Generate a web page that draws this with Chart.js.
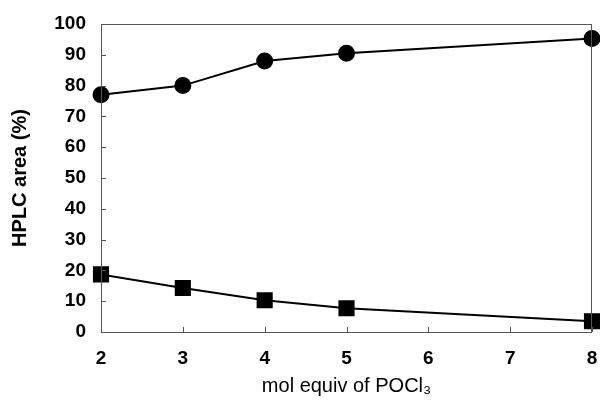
<!DOCTYPE html>
<html>
<head>
<meta charset="utf-8">
<script src="https://cdn.jsdelivr.net/npm/chart.js@4"></script>
<style>
  html, body { margin: 0; padding: 0; background: #fff; }
  #wrap { width: 600px; height: 419px; }
</style>
</head>
<body>
<div id="wrap"><canvas id="chart" width="600" height="419"></canvas></div>
<script>
// DATA
const equivTop = [2, 3, 4, 5, 8]
const areaTop = [77, 80, 88, 90.5, 95.3]
const equivBottom = [2, 3, 4, 5, 8]
const areaBottom = [18.7, 14.3, 10.3, 7.7, 3.5]
const xTicks = [2, 3, 4, 5, 6, 7, 8]

const toPoints = (xs, ys) => xs.map((x, i) => ({ x: x, y: ys[i] }))

// frame + inward ticks
const framePlugin = {
  id: "frame",
  afterDatasetsDraw(chart) {
    const { ctx, chartArea, scales } = chart
    ctx.save()
    ctx.strokeStyle = "#555"
    ctx.lineWidth = 1
    ctx.strokeRect(chartArea.left + 0.5, chartArea.top + 0.5, chartArea.width - 1, chartArea.height)
    ctx.beginPath()
    scales.y.ticks.forEach((t) => {
      const py = Math.round(scales.y.getPixelForValue(t.value)) + 0.5
      ctx.moveTo(chartArea.left, py)
      ctx.lineTo(chartArea.left + 5, py)
    })
    xTicks.forEach((v) => {
      const px = Math.round(scales.x.getPixelForValue(v)) + 0.5
      ctx.moveTo(px, chartArea.bottom)
      ctx.lineTo(px, chartArea.bottom - 5)
    })
    ctx.stroke()
    ctx.restore()
  },
}

const ctx = document.getElementById("chart").getContext("2d")

new Chart(ctx, {
  type: "line",
  data: {
    datasets: [
      {
        data: toPoints(equivTop, areaTop),
        borderColor: "#000",
        backgroundColor: "#000",
        borderWidth: 2,
        pointStyle: "circle",
        pointRadius: 7.5,
        fill: false,
        clip: false,
      },
      {
        data: toPoints(equivBottom, areaBottom),
        borderColor: "#000",
        backgroundColor: "#000",
        borderWidth: 2,
        pointStyle: "rect",
        pointRadius: 10,
        fill: false,
        clip: false,
      },
    ],
  },
  options: {
    responsive: false,
    animation: false,
    layout: { autoPadding: false, padding: { left: 8, right: 8, top: 24, bottom: 0 } },
    plugins: { legend: { display: false }, tooltip: { enabled: false } },
    scales: {
      x: {
        type: "linear",
        min: 2,
        max: 8,
        afterFit: (s) => {
          s.height = 87
          s.paddingLeft = 0
          s.paddingRight = 0
        },
        afterBuildTicks: (s) => { s.ticks = xTicks.map((v) => ({ value: v })) },
        grid: { display: false, drawTicks: false },
        border: { display: false },
        ticks: {
          color: "#000",
          padding: 15,
          font: { family: "Liberation Sans", size: 19, weight: "bold" },
        },
        title: {
          display: true,
          text: "mol equiv of POCl₃",
          color: "#000",
          padding: { top: 0, bottom: 21 },
          font: { family: "Liberation Sans", size: 20 },
        },
      },
      y: {
        min: 0,
        max: 100,
        afterFit: (s) => {
          s.width = 93
          s.paddingTop = 0
          s.paddingBottom = 0
        },
        grid: { display: false, drawTicks: false },
        border: { display: false },
        ticks: {
          stepSize: 10,
          color: "#000",
          padding: 15,
          font: { family: "Liberation Sans", size: 19, weight: "bold" },
        },
        title: {
          display: true,
          text: "HPLC area (%)",
          color: "#000",
          padding: { top: 0, bottom: 0 },
          font: { family: "Liberation Sans", size: 20, weight: "bold" },
        },
      },
    },
  },
  plugins: [framePlugin],
})
</script>
</body>
</html>
